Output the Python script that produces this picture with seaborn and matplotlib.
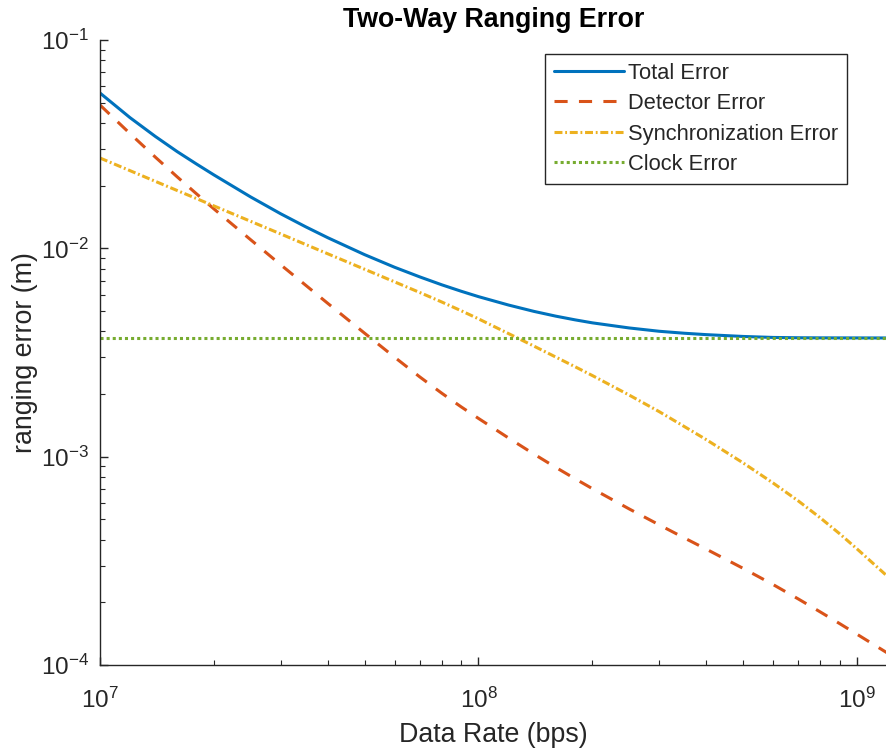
import numpy as np
import pandas as pd
import matplotlib
matplotlib.use("Agg")
import matplotlib.pyplot as plt
import seaborn as sns
from matplotlib.ticker import LogLocator, LogFormatterSciNotation, NullFormatter

# ---- data ----
data_rate = [1.0e7, 1.2e7, 1.4e7, 1.6e7, 1.8e7, 2.0e7, 2.5e7, 3.0e7, 3.5e7, 4.0e7,
             5.0e7, 6.0e7, 7.0e7, 8.0e7, 9.0e7,
             1.0e8, 1.2e8, 1.4e8, 1.6e8, 1.8e8, 2.0e8, 2.5e8, 3.0e8, 3.5e8, 4.0e8,
             5.0e8, 6.0e8, 7.0e8, 8.0e8, 9.0e8, 1.0e9, 1.2e9]
total_error = [0.05566, 0.04241, 0.03445, 0.02911, 0.02537, 0.02251, 0.01765, 0.01466,
               0.01267, 0.01124, 0.009328, 0.008115, 0.007290, 0.006681, 0.006223,
               0.005863, 0.005344, 0.004983, 0.004726, 0.004536, 0.004388, 0.004148,
               0.003999, 0.003912, 0.003852, 0.003776, 0.003735, 0.003722, 0.003718,
               0.003716, 0.003715, 0.003713]
detector_error = [0.04874, 0.03557, 0.02741, 0.02202, 0.01825, 0.01546, 0.01100, 0.008348,
                  0.006637, 0.005439, 0.003916, 0.003004, 0.002413, 0.002016, 0.001734,
                  0.001526, 0.001230, 0.001030, 0.0008884, 0.0007834, 0.0007020, 0.0005615,
                  0.0004710, 0.0004071, 0.0003596, 0.0002911, 0.0002434, 0.0002074,
                  0.0001797, 0.0001580, 0.0001405, 0.0001145]
sync_error = [0.02714, 0.02360, 0.02097, 0.01894, 0.01732, 0.01598, 0.01348, 0.01173,
              0.01042, 0.009410, 0.007937, 0.006905, 0.006135, 0.005524, 0.005017,
              0.004587, 0.003899, 0.003396, 0.003007, 0.002701, 0.002450, 0.001976,
              0.001646, 0.001394, 0.001206, 0.0009337, 0.0007477, 0.0006128, 0.0005084,
              0.0004264, 0.0003608, 0.0002677]
clock_error = [0.00371] * len(data_rate)

series_names = ["Total Error", "Detector Error", "Synchronization Error", "Clock Error"]

sns.set_theme(style="ticks")
plt.rcParams["font.family"] = ["Liberation Sans", "DejaVu Sans"]
plt.rcParams["mathtext.fontset"] = "custom"
plt.rcParams["mathtext.rm"] = "Liberation Sans"
plt.rcParams["mathtext.it"] = "Liberation Sans:italic"
plt.rcParams["mathtext.bf"] = "Liberation Sans:bold"

fig = plt.figure(figsize=(8.87, 7.5), dpi=100)
ax = fig.add_axes([0.1127, 0.1133, 0.8873, 0.8334])

df = pd.DataFrame({"rate": data_rate, "total": total_error, "det": detector_error,
                   "sync": sync_error, "clock": clock_error})

lw = 2.2
sns.lineplot(data=df, x="rate", y="total", ax=ax, color="#0072BD", lw=lw,
             label=series_names[0])
sns.lineplot(data=df, x="rate", y="det", ax=ax, color="#D95319", lw=lw,
             label=series_names[1])
sns.lineplot(data=df, x="rate", y="sync", ax=ax, color="#EDB120", lw=lw,
             label=series_names[2])
sns.lineplot(data=df, x="rate", y="clock", ax=ax, color="#77AC30", lw=lw,
             label=series_names[3])

lines = ax.get_lines()
lines[1].set_dashes((4.3, 3.7))
lines[2].set_dashes((2.6, 0.9, 0.6, 0.9))
lines[3].set_dashes((1.0, 1.0))

ax.set_xscale("log")
ax.set_yscale("log")
ax.set_xlim(1e7, 1.2e9)
ax.set_ylim(1e-4, 1e-1)

ax.xaxis.set_major_locator(LogLocator(base=10, numticks=10))
ax.xaxis.set_minor_locator(LogLocator(base=10, subs=np.arange(2, 10), numticks=30))
ax.yaxis.set_major_locator(LogLocator(base=10, numticks=10))
ax.yaxis.set_minor_locator(LogLocator(base=10, subs=np.arange(2, 10), numticks=30))
ax.xaxis.set_major_formatter(LogFormatterSciNotation())
ax.yaxis.set_major_formatter(LogFormatterSciNotation())
ax.xaxis.set_minor_formatter(NullFormatter())
ax.yaxis.set_minor_formatter(NullFormatter())

dark = "#262626"
ax.tick_params(axis="both", which="major", direction="in", length=6, width=1,
               colors=dark, labelsize=17.5)
ax.tick_params(axis="y", which="major", pad=8)
ax.tick_params(axis="x", which="major", pad=16)
ax.tick_params(axis="both", which="minor", direction="in", length=3.5, width=0.8,
               colors=dark)
for s in ["left", "bottom"]:
    ax.spines[s].set_color(dark)
    ax.spines[s].set_linewidth(1)
for s in ["top", "right"]:
    ax.spines[s].set_visible(False)

ax.set_xlabel("Data Rate (bps)", fontsize=19.3, color=dark, labelpad=7)
ax.set_ylabel("ranging error (m)", fontsize=19.3, color=dark, labelpad=2)
ax.set_title("Two-Way Ranging Error", fontsize=19.3, fontweight="bold", color="black", pad=9)

leg = ax.legend(loc="upper right", bbox_to_anchor=(0.949, 0.9776), fontsize=15.75,
                frameon=True, fancybox=False, edgecolor=dark, framealpha=1,
                handlelength=3.2, handletextpad=0.2, labelspacing=0.43,
                borderpad=0.4, borderaxespad=0)
leg.get_frame().set_linewidth(1)
for t in leg.get_texts():
    t.set_color(dark)

fig.savefig("out.png", dpi=100)
